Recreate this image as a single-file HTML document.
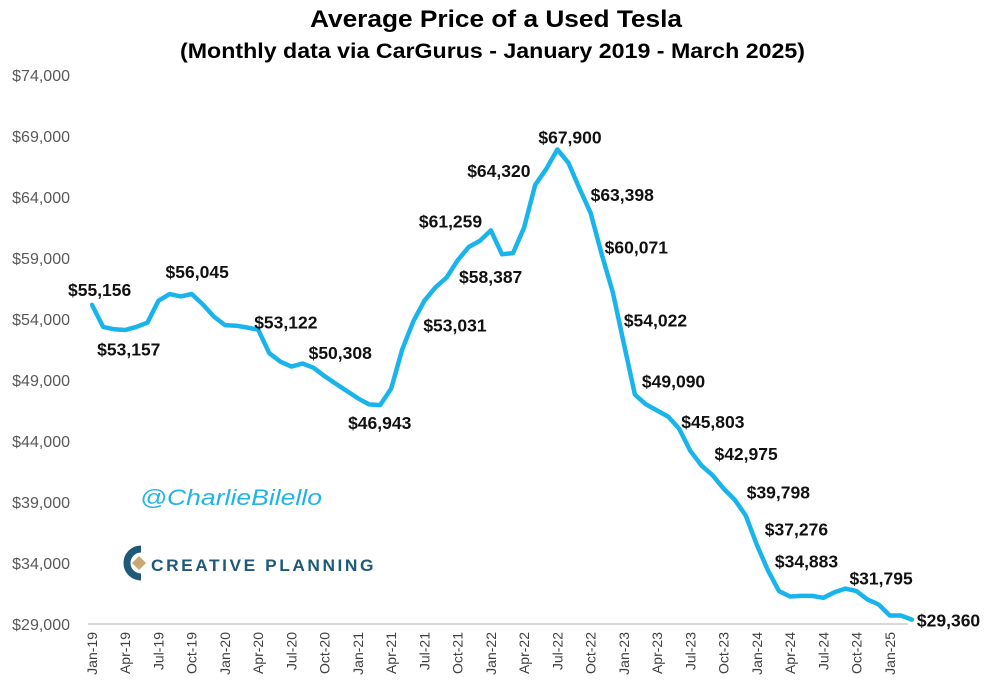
<!DOCTYPE html>
<html><head><meta charset="utf-8">
<style>
body{margin:0;background:#fff;}
svg{display:block;font-family:"Liberation Sans",Arial,sans-serif;}
</style></head>
<body>
<svg id="chart" width="990" height="696" viewBox="0 0 990 696">
<text x="310" y="27" textLength="372" lengthAdjust="spacingAndGlyphs" font-size="24" font-weight="bold" fill="#000">Average Price of a Used Tesla</text>
<text x="180" y="58" textLength="625" lengthAdjust="spacingAndGlyphs" font-size="21" font-weight="bold" fill="#000">(Monthly data via CarGurus - January 2019 - March 2025)</text>
<g id="yaxis"></g>
<g id="xaxis"></g>
<g id="series"></g>
<g id="labels"></g>
<text x="140" y="505" textLength="182" lengthAdjust="spacingAndGlyphs" font-size="22" font-style="italic" fill="#22b4e8">@CharlieBilello</text>
<g>
  <path d="M141 549 A14 14 0 1 0 141 577" fill="none" stroke="#1e5a78" stroke-width="7"/>
  <polygon points="132,563 139,556 146,563 139,570" fill="#c9a874"/>
  <text x="151" y="571" textLength="225" lengthAdjust="spacingAndGlyphs" font-size="17" font-weight="bold" letter-spacing="2.5" fill="#1e5a78">CREATIVE PLANNING</text>
</g>
</svg>
<script>
const months = ["Jan","Feb","Mar","Apr","May","Jun","Jul","Aug","Sep","Oct","Nov","Dec"];
const prices = [55156,53350,53157,53100,53350,53700,55500,56045,55850,56050,55200,54200,
53500,53450,53300,53122,51200,50500,50100,50350,50000,49300,48700,48100,
47500,47000,46943,48300,51500,53800,55500,56600,57400,58800,59900,60400,
61259,59300,59400,61500,65000,66300,67900,66800,64700,62700,59300,56200,
52000,47800,47000,46500,46000,45000,43200,42000,41200,40100,39200,37900,
35500,33400,31700,31250,31300,31300,31150,31600,31900,31700,31000,30600,
29700,29700,29360];
const yTicks = [29000,34000,39000,44000,49000,54000,59000,64000,69000,74000];
const labelIdx = [0,2,7,15,20,26,29,36,38,40,42,45,46,48,49,53,56,59,60,61,68,74];
const labelText = ["$55,156","$53,157","$56,045","$53,122","$50,308","$46,943","$53,031","$61,259","$58,387","$64,320","$67,900","$63,398","$60,071","$54,022","$49,090","$45,803","$42,975","$39,798","$37,276","$34,883","$31,795","$29,360"];
const labelDx = [-24,-17,-4,-4,-5,-32,10,-72,-54,-68,-19,0,3,0,7,2,2,1,8,7,4,5];
const labelDy = [-15,20,-22,-7,-15,18,4,-9,24,-14,-12,-18,-7,-23,-13,-7,-21,-23,-15,-9,-10,1];

const NS="http://www.w3.org/2000/svg";
const x = i => 92 + i*11.08;
const y = v => 624 - (v-29000)*0.0122;
function mk(tag, attrs, parent){const e=document.createElementNS(NS,tag);for(const k in attrs)e.setAttribute(k,attrs[k]);parent.appendChild(e);return e;}

const ya=document.getElementById('yaxis');
yTicks.forEach(t=>{
  const e=mk('text',{x:70,y:y(t)+6,'text-anchor':'end','font-size':16,fill:'#595959'},ya);
  
  
  e.textContent='$'+t.toLocaleString('en-US');
});
const xa=document.getElementById('xaxis');
const base=mk('line',{x1:88,x2:908,y1:624,y2:624,stroke:'#d9d9d9','stroke-width':2},xa);


for(let i=0;i<prices.length;i+=3){
  const lbl=months[i%12]+'-'+(19+Math.floor(i/12));
  const e=mk('text',{x:0,y:0,'font-size':14,fill:'#404040','text-anchor':'end',transform:`translate(${x(i)+5},632) rotate(-90)`},xa);
  
  
  e.textContent=lbl;
}
const s=document.getElementById('series');
const d=prices.map((v,i)=>(i?'L':'M')+x(i).toFixed(1)+' '+y(v).toFixed(1)).join(' ');
const p=mk('path',{d:d,fill:'none',stroke:'#1ab4ec','stroke-width':4.5,'stroke-linejoin':'round','stroke-linecap':'round'},s);


const lg=document.getElementById('labels');
labelIdx.forEach((i,k)=>{
  const e=mk('text',{x:x(i)+labelDx[k],y:y(prices[i])+labelDy[k]+6,'font-size':17.5,'font-weight':'bold',fill:'#111'},lg);
  
  
  e.textContent=labelText[k];
});
</script>
</body></html>
